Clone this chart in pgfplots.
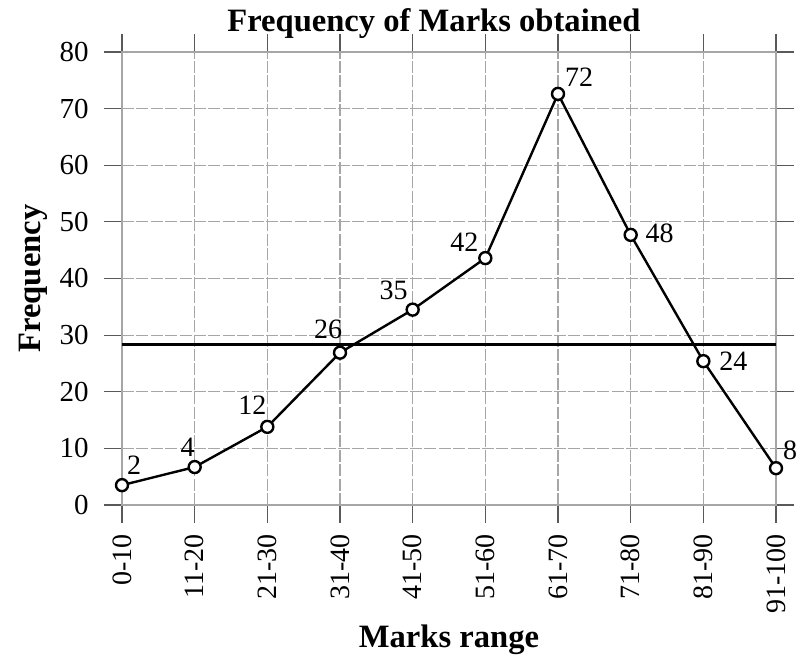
\documentclass[border=0pt]{standalone}
\usepackage{fontspec}
\setmainfont{Liberation Serif}
\usepackage{pgfplots}
\pgfplotsset{compat=1.18}
\begin{document}
\begin{tikzpicture}
\begin{axis}[
  scale only axis, width=327pt, height=226.5pt,
  xmin=0, xmax=9, ymin=0, ymax=80,
  xtick={0,...,9},
  xticklabels={0-10,11-20,21-30,31-40,41-50,51-60,61-70,71-80,81-90,91-100},
  ytick={0,10,...,80},
  /pgf/number format/assume math mode=true,
  tick label style={black},
  x tick label style={rotate=90, anchor=east, inner sep=2pt, xshift=-3.5pt, font=\fontsize{14}{16}\selectfont},
  y tick label style={inner sep=2pt, xshift=-5.5pt, font=\fontsize{14.5}{16}\selectfont},
  tick align=outside, major tick length=9pt,
  tick style={gray!70!black, line width=0.6pt},
  grid=major,
  grid style={gray!70, line width=0.6pt, dash pattern=on 6pt off 1.2pt},
  axis line style={gray!70, line width=0.6pt},
  title={\textbf{Frequency of Marks obtained}},
  every axis title/.style={font=\fontsize{16.3}{19}\selectfont, at={(axis description cs:0.477,1.0618)}, anchor=center},
  xlabel={\textbf{Marks range}},
  ylabel={\textbf{Frequency}},
  every axis x label/.style={at={(axis description cs:0.5,-0.298)}, anchor=center, font=\fontsize{16.3}{19}\selectfont},
  every axis y label/.style={at={(axis description cs:-0.136,0.5)}, rotate=90, anchor=center, font=\fontsize{16.3}{19}\selectfont},
  clip=false,
]
\addplot[black, line width=1.3pt, forget plot] coordinates {(0,28.3) (9,28.3)};
\addplot[black, line width=1.2pt, mark=*, mark size=3pt,
  mark options={fill=white, draw=black, line width=1.2pt}]
  coordinates {(0,3.5) (1,6.7) (2,13.8) (3,26.9) (4,34.5) (5,43.6) (6,72.6) (7,47.7) (8,25.4) (9,6.5)};
\begin{scope}[every node/.style={font=\fontsize{14}{16}\selectfont, inner sep=0pt}]
\node[xshift=6pt, yshift=10pt] at (axis cs:0,3.5) {2};
\node[xshift=-3.5pt, yshift=10pt] at (axis cs:1,6.7) {4};
\node[xshift=-7.5pt, yshift=11pt] at (axis cs:2,13.8) {12};
\node[xshift=-6pt, yshift=11.5pt] at (axis cs:3,26.9) {26};
\node[xshift=-9.5pt, yshift=9.5pt] at (axis cs:4,34.5) {35};
\node[xshift=-10.5pt, yshift=8pt] at (axis cs:5,43.6) {42};
\node[xshift=10.5pt, yshift=8.5pt] at (axis cs:6,72.6) {72};
\node[xshift=14.5pt, yshift=1pt] at (axis cs:7,47.7) {48};
\node[xshift=15pt, yshift=0pt] at (axis cs:8,25.4) {24};
\node[xshift=7pt, yshift=9pt] at (axis cs:9,6.5) {8};
\end{scope}
\end{axis}
\pgfresetboundingbox
\path[use as bounding box] ([shift={(-61pt,-75.5pt)}]current axis.south west) rectangle ([shift={(13.5pt,26pt)}]current axis.north east);
\end{tikzpicture}
\end{document}
